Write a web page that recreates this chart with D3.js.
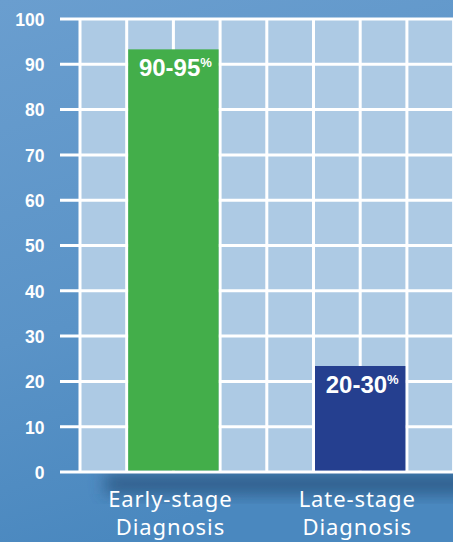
<!DOCTYPE html>
<html><head><meta charset="utf-8">
<script src="https://cdn.jsdelivr.net/npm/d3@7"></script>
<style>html,body{margin:0;padding:0;background:#5a95c8;}svg{display:block;}</style>
</head><body>
<svg id="c" width="453" height="542"></svg>
<script>
const categories = ["Early-stage Diagnosis", "Late-stage Diagnosis"];
const values = [93.3, 23.4];
const valueLabels = ["90-95", "20-30"];
const yTicks = [0, 10, 20, 30, 40, 50, 60, 70, 80, 90, 100];
const barColors = ["#43ae4a", "#253f8f"];

const svg = d3.select("#c");
const W = 453, H = 542;
const defs = svg.append("defs");
const bg = defs.append("linearGradient").attr("id","bg").attr("x1",0).attr("y1",0).attr("x2",0.25).attr("y2",1);
bg.append("stop").attr("offset","0%").attr("stop-color","#6a9ecf");
bg.append("stop").attr("offset","60%").attr("stop-color","#5a93c7");
bg.append("stop").attr("offset","100%").attr("stop-color","#4a88bf");
svg.append("rect").attr("width",W).attr("height",H).attr("fill","url(#bg)");

const f = defs.append("filter").attr("id","blur").attr("x","-20%").attr("y","-50%").attr("width","140%").attr("height","200%");
f.append("feGaussianBlur").attr("stdDeviation",8);

const y = d3.scaleLinear().domain([0,100]).range([472,19]);
const col = d3.scaleLinear().domain([0,8]).range([80,453.6]);
const x = d3.scaleBand().domain(categories).range([col(1), col(7)]).paddingInner(0.5).paddingOuter(0);

// shadow under axis
svg.append("rect").attr("x",105).attr("y",474).attr("width",370).attr("height",20)
  .attr("fill","#2a5782").attr("opacity",0.85).attr("filter","url(#blur)");

// grid area
svg.append("rect").attr("x",col(0)).attr("y",y(100)).attr("width",W-col(0)).attr("height",y(0)-y(100)).attr("fill","#adcae4");

const g = svg.append("g");
g.selectAll("line.h").data(yTicks).enter().append("line")
  .attr("x1",60).attr("x2",W).attr("y1",d=>y(d)).attr("y2",d=>y(d))
  .attr("stroke","#fff").attr("stroke-width",3);
g.selectAll("line.v").data(d3.range(0,9)).enter().append("line")
  .attr("x1",d=>col(d)).attr("x2",d=>col(d)).attr("y1",y(100)).attr("y2",y(0))
  .attr("stroke","#fff").attr("stroke-width",3);

// y axis labels
const yAxis = d3.axisLeft(y).tickValues(yTicks).tickSize(0).tickPadding(0);
const ya = svg.append("g").attr("transform","translate(44.5,0)").call(yAxis);
ya.select(".domain").remove();
ya.attr("font-size",null).attr("font-family",null);
ya.selectAll("text").attr("fill","#fff")
  .style("font-family","'Liberation Sans', Arial, sans-serif")
  .style("font-weight","bold").style("font-size","17.5px").attr("dy","0.36em");

// bars
svg.selectAll("rect.bar").data(categories).enter().append("rect")
  .attr("x",d=>x(d)+1.5).attr("width",x.bandwidth()-3)
  .attr("y",(d,i)=>y(values[i])).attr("height",(d,i)=>y(0)-y(values[i])-1.5)
  .attr("fill",(d,i)=>barColors[i]);

// value labels
const vl = svg.selectAll("text.vl").data(categories).enter().append("text")
  .attr("x",d=>x(d)+x.bandwidth()/2+2).attr("y",(d,i)=>y(values[i])+27)
  .attr("text-anchor","middle").attr("fill","#fff")
  .attr("font-family","Liberation Sans, Arial, sans-serif").attr("font-weight","bold").attr("font-size",24);
vl.append("tspan").text((d,i)=>valueLabels[i]);
vl.append("tspan").attr("font-size",13).attr("dy",-9).text("%");

// x axis labels
const xl = svg.selectAll("text.xl").data(categories).enter().append("text")
  .attr("x",(d,i)=>x(d)+x.bandwidth()/2 - 3).attr("y",507)
  .attr("text-anchor","middle").attr("fill","#fff")
  .attr("font-family","Noto Sans, sans-serif").attr("font-weight","400").attr("font-size",22)
  .attr("letter-spacing",0.9);
xl.each(function(d){
  const parts = d.split(" ");
  const t = d3.select(this);
  parts.forEach((p,j)=>t.append("tspan").attr("x",t.attr("x")).attr("dy", j? 28:0).text(p));
});
</script>
</body></html>
